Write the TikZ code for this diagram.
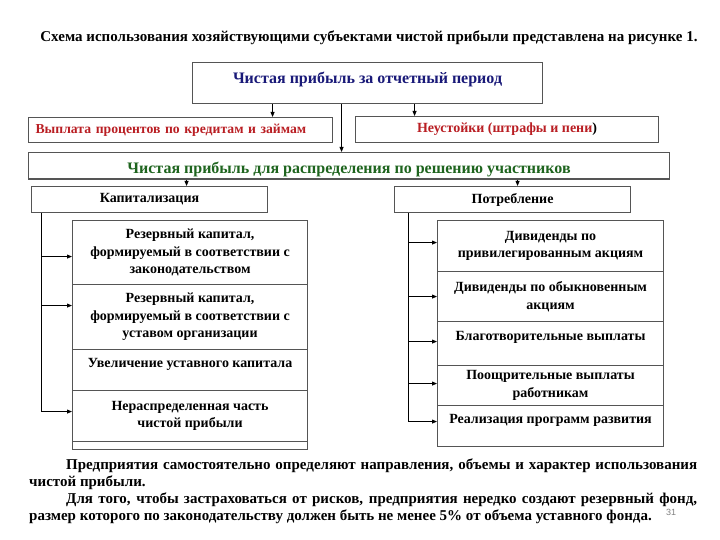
\documentclass[tikz,border=0pt]{standalone}
\usepackage{fontspec}
\setmainfont{Liberation Serif}
\newfontfamily\pagenumfont{Liberation Sans}
\usepackage{tikz}
\usetikzlibrary{arrows.meta, positioning, calc}

\definecolor{periodblue}{RGB}{25,25,120}
\definecolor{costred}{RGB}{185,30,35}
\definecolor{sharegreen}{RGB}{30,100,30}
\definecolor{framegray}{RGB}{85,85,85}

\begin{document}
\begin{tikzpicture}[x=1pt, y=-1pt,
    box/.style={draw=framegray, line width=1.1pt, inner sep=2pt, anchor=north west,
        font=\bfseries\fontsize{14}{16}\selectfont},
    cell/.style={box, align=center, font=\bfseries\fontsize{14}{17.5}\selectfont},
    link/.style={line width=0.8pt},
    arrow/.style={link, -{Triangle[length=5pt, width=4pt]}},
    lift/.style={text height=9.5pt, text depth=#1},
    sink/.style={text height=#1, text depth=3.5pt}]

    \useasboundingbox (0,0) rectangle (720,540);

    % ============================================================
    % TITLE
    % ============================================================
    \node[font=\bfseries\fontsize{15}{17}\selectfont] (title) at (369,38)
        {Схема использования хозяйствующими субъектами чистой прибыли представлена на рисунке 1.};

    % ============================================================
    % NET PROFIT AND DEDUCTIONS
    % ============================================================
    \node[box, minimum width=350pt, minimum height=41pt, text=periodblue,
        font=\bfseries\fontsize{16}{18}\selectfont, text height=11pt, text depth=11pt]
        (period) at (192,62) {Чистая прибыль за отчетный период};
    \node[box, text width=290pt, inner xsep=7pt, align=left, minimum height=25pt, text=costred,
        font=\bfseries\fontsize{13.7}{16}\selectfont]
        (interest) at (28,117) {Выплата процентов по кредитам и займам};
    \node[box, minimum width=303pt, minimum height=26pt, text=costred]
        (penalty) at (355,116) {Неустойки (штрафы и пени\textcolor{black}{)}};
    \node[box, minimum width=641pt, minimum height=23pt, text=sharegreen,
        font=\bfseries\fontsize{16}{18}\selectfont, sink=19pt]
        (share) at (28,152) {Чистая прибыль для распределения по решению участников};

    \draw[arrow] ([xshift=-95pt]period.south) -- ([xshift=-95pt]period.south |- interest.north);
    \draw[arrow] ([xshift=47pt]period.south) -- ([xshift=47pt]period.south |- penalty.north);
    \draw[arrow] ([xshift=-26pt]period.south) -- ([xshift=-26pt]period.south |- share.north);

    % ============================================================
    % CAPITALIZATION
    % ============================================================
    \node[box, minimum width=236pt, minimum height=26pt] (capital) at (31,186) {Капитализация};
    \draw[arrow] ([xshift=-162.5pt]share.south) -- ([xshift=-162.5pt]share.south |- capital.north);

    \node[cell, minimum width=235pt, minimum height=64pt] (l1) at (72,220)
        {Резервный капитал,\\ формируемый в соответствии с\\ законодательством};
    \node[cell, minimum width=235pt, minimum height=65pt] (l2) at (72,284)
        {Резервный капитал,\\ формируемый в соответствии с\\ уставом организации};
    \node[cell, minimum width=235pt, minimum height=41pt, lift=14.5pt] (l3) at (72,349)
        {Увеличение уставного капитала};
    \node[cell, minimum width=235pt, minimum height=51pt] (l4) at (72,390)
        {Нераспределенная часть\\ чистой прибыли};
    \node[cell, minimum width=235pt, minimum height=8pt] (l5) at (72,441) {};

    \draw[link] ([xshift=10pt]capital.south west) coordinate (lbus)
        -- ([yshift=4.5pt]lbus |- l4.west);
    \foreach \cellname/\dy in {l1/-4, l2/11.5, l4/4.5}
        \draw[arrow] ([yshift=\dy pt]lbus |- \cellname.west) -- ([yshift=\dy pt]\cellname.west);

    % ============================================================
    % CONSUMPTION
    % ============================================================
    \node[box, minimum width=236pt, minimum height=26pt] (consume) at (394,186) {Потребление};
    \draw[arrow] ([xshift=168.5pt]share.south) -- ([xshift=168.5pt]share.south |- consume.north);

    \node[cell, minimum width=226pt, minimum height=51pt] (r1) at (437,220)
        {Дивиденды по\\ привилегированным акциям};
    \node[cell, minimum width=226pt, minimum height=50pt] (r2) at (437,271)
        {Дивиденды по обыкновенным\\ акциям};
    \node[cell, minimum width=226pt, minimum height=44pt, lift=16.5pt] (r3) at (437,321)
        {Благотворительные выплаты};
    \node[cell, minimum width=226pt, minimum height=40pt] (r4) at (437,365)
        {Поощрительные выплаты\\ работникам};
    \node[cell, minimum width=226pt, minimum height=41pt, lift=14.5pt] (r5) at (437,405)
        {Реализация программ развития};

    \draw[link] ([xshift=14pt]consume.south west) coordinate (rbus)
        -- ([yshift=4.5pt]rbus |- r5.west);
    \foreach \cellname/\dy in {r1/3.5, r2/0, r3/2, r4/2, r5/4.5}
        \draw[arrow] ([yshift=\dy pt]rbus |- \cellname.west) -- ([yshift=\dy pt]\cellname.west);

    % ============================================================
    % NOTE BELOW THE SCHEME
    % ============================================================
    \node[anchor=north west, inner sep=0pt, text width=668pt, align=justify,
        font=\bfseries\fontsize{15}{17}\selectfont] (note) at (29,459)
        {\hspace*{37pt}Предприятия самостоятельно определяют направления, объемы и характер использования\linebreak
         чистой прибыли.\par
         \hspace*{37pt}Для того, чтобы застраховаться от рисков, предприятия нередко создают резервный фонд,\linebreak
         размер которого по законодательству должен быть не менее 5\% от объема уставного фонда.};
    \node[text=gray, font=\pagenumfont\fontsize{9}{10}\selectfont] (pagenum) at (671,512) {31};

\end{tikzpicture}
\end{document}
